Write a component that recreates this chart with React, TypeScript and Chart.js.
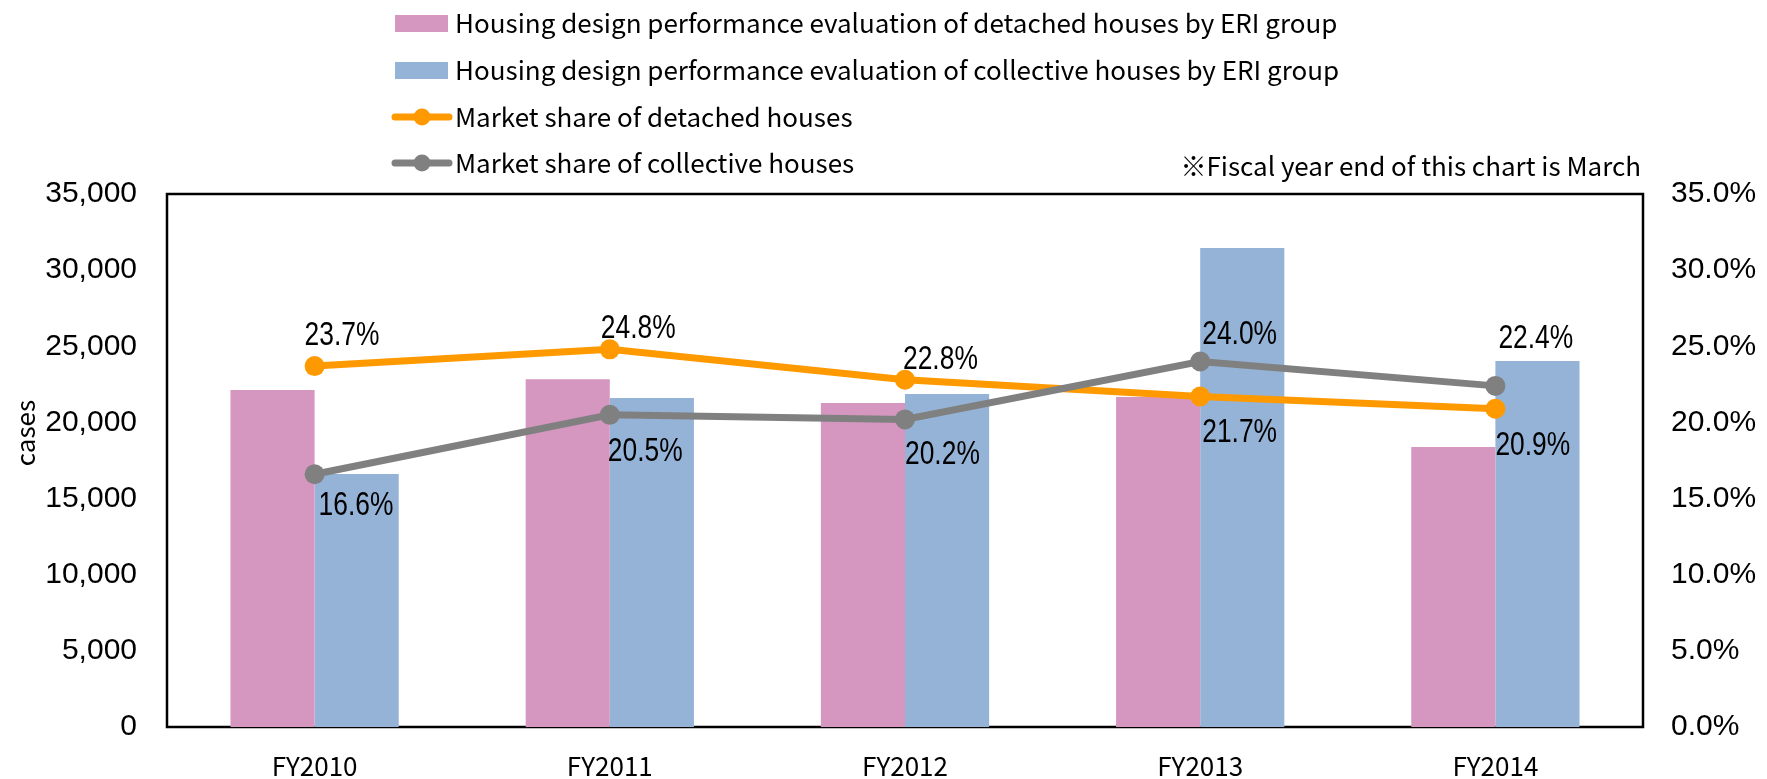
import React, { useEffect, useRef } from "react";
import { Chart, registerables } from "chart.js";

Chart.register(...registerables);

// ---------- data ----------
const categories = ["FY2010", "FY2011", "FY2012", "FY2013", "FY2014"];
const detachedCases = [22130, 22830, 21270, 21670, 18380];
const collectiveCases = [16610, 21600, 21860, 31450, 24030];
const detachedShare = [23.7, 24.8, 22.8, 21.7, 20.9];
const collectiveShare = [16.6, 20.5, 20.2, 24.0, 22.4];
const seriesNames = [
  "Housing design performance evaluation of detached houses by ERI group",
  "Housing design performance evaluation of collective houses by ERI group",
  "Market share of detached houses",
  "Market share of collective houses",
];
const noteText = "※Fiscal year end of this chart is March";
const leftAxisTitle = "cases";

// ---------- styles ----------
const PINK = "#D597C0";
const BLUE = "#95B3D7";
const ORANGE = "#FF9900";
const GRAY = "#808080";
const CJK = "'Noto Sans CJK JP', 'Noto Sans', sans-serif";
const ARIAL = "'Liberation Sans', Arial, sans-serif";

// data-label placement (pixel offsets from each point, as in the reference)
const detachedLabelDx = [-10, -9, -2, 2, 0];
const detachedLabelDy = [-30, -20, -20, 36, 37];
const collectiveLabelDx = [4, -2, 0, 2, 3];
const collectiveLabelDy = [32, 37, 36, -27, -47];

const W = 1767;
const H = 779;

function condensedText(
  ctx: CanvasRenderingContext2D,
  text: string,
  x: number,
  y: number,
  font: string,
  sx: number,
  align: CanvasTextAlign = "left"
) {
  ctx.save();
  ctx.font = font;
  ctx.textAlign = align;
  ctx.textBaseline = "middle";
  ctx.fillStyle = "#000";
  ctx.translate(x, y);
  ctx.scale(sx, 1);
  ctx.fillText(text, 0, 0);
  ctx.restore();
}

const framePlugin = {
  id: "frame",
  beforeDatasetsDraw(chart: any) {
    const { ctx, chartArea: a } = chart;
    ctx.save();
    ctx.strokeStyle = "#000";
    ctx.lineWidth = 2.5;
    ctx.strokeRect(a.left, a.top, a.right - a.left, a.bottom - a.top);
    ctx.restore();
  },
};

const labelsPlugin = {
  id: "pctLabels",
  afterDatasetsDraw(chart: any) {
    const ctx = chart.ctx;
    const font = `33px ${ARIAL}`;
    const specs = [
      { idx: 2, vals: detachedShare, dx: detachedLabelDx, dy: detachedLabelDy },
      { idx: 3, vals: collectiveShare, dx: collectiveLabelDx, dy: collectiveLabelDy },
    ];
    specs.forEach((s) => {
      const meta = chart.getDatasetMeta(s.idx);
      meta.data.forEach((pt: any, i: number) => {
        condensedText(ctx, s.vals[i].toFixed(1) + "%", pt.x + s.dx[i], pt.y + s.dy[i], font, 0.8);
      });
    });
  },
};

const legendPlugin = {
  id: "customLegend",
  afterDraw(chart: any) {
    const ctx = chart.ctx;
    const x0 = 395;
    const boxW = 53;
    const ys = [23.5, 70.5, 117, 163];
    const colors = [PINK, BLUE, ORANGE, GRAY];
    ctx.save();
    seriesNames.forEach((name, i) => {
      const y = ys[i];
      if (i < 2) {
        ctx.fillStyle = colors[i];
        ctx.fillRect(x0, y - 8.5, boxW, 17);
      } else {
        ctx.strokeStyle = colors[i];
        ctx.lineWidth = 7;
        ctx.lineCap = "round";
        ctx.beginPath();
        ctx.moveTo(x0, y);
        ctx.lineTo(x0 + boxW + 1, y);
        ctx.stroke();
        ctx.fillStyle = colors[i];
        ctx.beginPath();
        ctx.arc(x0 + 27, y, 8.5, 0, Math.PI * 2);
        ctx.fill();
      }
      ctx.fillStyle = "#000";
      ctx.font = `26px ${CJK}`;
      ctx.textAlign = "left";
      ctx.textBaseline = "middle";
      ctx.fillText(name, 455, y);
    });
    // note
    ctx.font = `26px ${CJK}`;
    ctx.textAlign = "right";
    ctx.textBaseline = "middle";
    ctx.fillText(noteText, chart.chartArea.right - 2, 166);
    // left axis title
    ctx.save();
    ctx.translate(25, 433);
    ctx.rotate(-Math.PI / 2);
    ctx.textAlign = "center";
    ctx.textBaseline = "middle";
    ctx.font = `26px ${CJK}`;
    ctx.fillText(leftAxisTitle, 0, 0);
    ctx.restore();
    ctx.restore();
  },
};

export default function App() {
  const ref = useRef<HTMLCanvasElement | null>(null);

  useEffect(() => {
    document.body.style.margin = "0";
    const canvas = ref.current;
    if (!canvas) return;
    const chart = new Chart(canvas, {
      type: "bar",
      data: {
        labels: categories,
        datasets: [
          {
            type: "bar",
            label: seriesNames[0],
            data: detachedCases,
            backgroundColor: PINK,
            borderWidth: 0,
            yAxisID: "y",
            order: 2,
            categoryPercentage: 0.57,
            barPercentage: 1.0,
          },
          {
            type: "bar",
            label: seriesNames[1],
            data: collectiveCases,
            backgroundColor: BLUE,
            borderWidth: 0,
            yAxisID: "y",
            order: 2,
            categoryPercentage: 0.57,
            barPercentage: 1.0,
          },
          {
            type: "line",
            label: seriesNames[2],
            data: detachedShare,
            borderColor: ORANGE,
            backgroundColor: ORANGE,
            borderWidth: 7,
            pointRadius: 10,
            pointBorderWidth: 0,
            pointBackgroundColor: ORANGE,
            yAxisID: "y1",
            order: 1,
            tension: 0,
          },
          {
            type: "line",
            label: seriesNames[3],
            data: collectiveShare,
            borderColor: GRAY,
            backgroundColor: GRAY,
            borderWidth: 7,
            pointRadius: 10,
            pointBorderWidth: 0,
            pointBackgroundColor: GRAY,
            yAxisID: "y1",
            order: 0,
            tension: 0,
          },
        ],
      } as any,
      options: {
        responsive: false,
        animation: false,
        layout: { padding: { top: 194, left: 0, right: 0, bottom: 0 } },
        plugins: {
          legend: { display: false },
          tooltip: { enabled: false },
          title: { display: false },
        },
        scales: {
          x: {
            grid: { display: false, drawTicks: false },
            border: { display: false },
            ticks: {
              color: "#000",
              font: { family: CJK, size: 26 },
              padding: 24,
            },
            afterFit: (s: any) => {
              s.height = 52;
            },
          },
          y: {
            position: "left",
            min: 0,
            max: 35000,
            grid: { display: false, drawTicks: false },
            border: { display: false },
            ticks: {
              stepSize: 5000,
              color: "#000",
              font: { family: ARIAL, size: 30 },
              padding: 30,
              callback: (v: any) => Number(v).toLocaleString("en-US"),
            },
            afterFit: (s: any) => {
              s.width = 167;
            },
          },
          y1: {
            position: "right",
            min: 0,
            max: 35,
            grid: { display: false, drawTicks: false },
            border: { display: false },
            ticks: {
              stepSize: 5,
              color: "#000",
              font: { family: ARIAL, size: 30 },
              padding: 28,
              callback: (v: any) => Number(v).toFixed(1) + "%",
            },
            afterFit: (s: any) => {
              s.width = 124;
            },
          },
        },
      } as any,
      plugins: [framePlugin, labelsPlugin, legendPlugin],
    });
    return () => chart.destroy();
  }, []);

  return (
    <div style={{ width: W, height: H }}>
      <canvas ref={ref} width={W} height={H} style={{ width: W, height: H, display: "block" }} />
    </div>
  );
}
